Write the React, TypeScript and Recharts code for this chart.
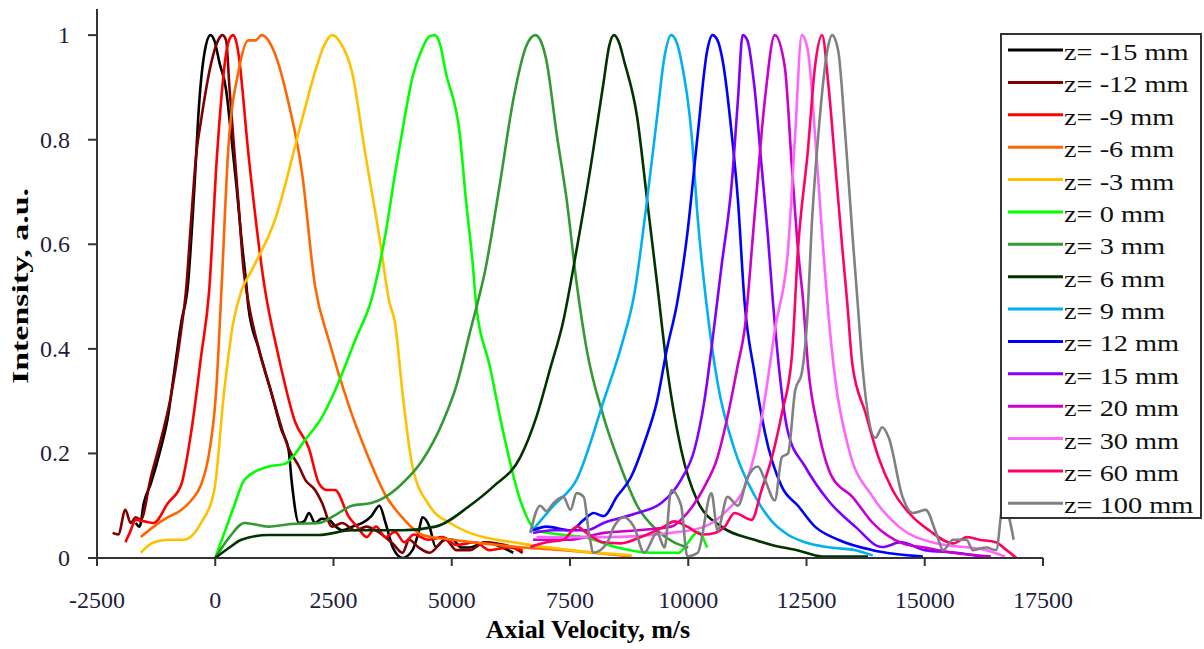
import { LineChart, Line, XAxis, YAxis, Label } from 'recharts';

// velocity (m/s), intensity (a.u.) pairs
const zM15: [number, number][] = [
  [-1680, 0.067], [-1600, 0.06], [-1510, 0.105], [-1360, 0.143], [-1150, 0.21], [-1000, 0.27], [-870, 0.354],
  [-720, 0.45], [-580, 0.52], [-440, 0.71], [-340, 0.87], [-230, 0.965], [-100, 1.0], [-20, 0.99], [90, 0.947],
  [230, 0.895], [340, 0.805], [450, 0.71], [550, 0.614], [660, 0.52], [700, 0.48], [920, 0.4], [1190, 0.315],
  [1400, 0.245], [1550, 0.207], [1620, 0.143], [1770, 0.067], [1880, 0.07], [1980, 0.086], [2110, 0.067],
  [2250, 0.075], [2400, 0.073], [2550, 0.06], [2680, 0.053], [2900, 0.06], [3110, 0.067], [3300, 0.08],
  [3470, 0.1], [3600, 0.067], [3750, 0.021], [3960, 0.0], [4170, 0.015], [4300, 0.05], [4380, 0.078],
  [4530, 0.06], [4660, 0.021], [4850, 0.035], [5020, 0.035], [5200, 0.02], [5380, 0.02], [5700, 0.03],
  [5940, 0.025], [6300, 0.01],
];
const zM12: [number, number][] = [
  [-2170, 0.048], [-2050, 0.045], [-1900, 0.092], [-1790, 0.067], [-1680, 0.078], [-1575, 0.073], [-1360, 0.155],
  [-1150, 0.226], [-940, 0.308], [-720, 0.436], [-620, 0.51], [-510, 0.646], [-400, 0.774], [-300, 0.837],
  [-85, 0.947], [60, 0.99], [150, 1.0], [230, 0.99], [300, 0.9], [380, 0.805], [490, 0.68], [600, 0.55], [700, 0.49],
  [920, 0.4], [1190, 0.315], [1400, 0.25], [1550, 0.21], [1770, 0.175], [1900, 0.15], [2110, 0.13],
  [2260, 0.105], [2470, 0.06], [2680, 0.067], [2960, 0.053], [3200, 0.06], [3390, 0.053], [3750, 0.028],
  [3960, 0.01], [4100, 0.035], [4300, 0.02], [4530, 0.01], [4870, 0.035], [5100, 0.015], [5380, 0.015],
  [5700, 0.03], [5940, 0.028], [6300, 0.02], [6500, 0.01],
];
const zM9: [number, number][] = [
  [-1900, 0.03], [-1800, 0.05], [-1680, 0.073], [-1500, 0.07], [-1300, 0.067], [-1000, 0.105], [-720, 0.14],
  [-510, 0.24], [-300, 0.385], [-130, 0.51], [40, 0.774], [230, 0.965], [300, 0.992], [380, 1.0], [450, 0.985],
  [490, 0.965], [700, 0.774],
  [1040, 0.52], [1340, 0.385], [1690, 0.26], [1980, 0.21], [2190, 0.143], [2350, 0.13], [2530, 0.13],
  [2830, 0.078], [3000, 0.06], [3200, 0.04], [3400, 0.06], [3600, 0.04], [3800, 0.05], [4000, 0.03],
  [4200, 0.045], [4500, 0.035], [4800, 0.04], [5100, 0.025], [5500, 0.03], [5800, 0.015], [6200, 0.02],
  [6500, 0.015],
];
const zM6: [number, number][] = [
  [-1575, 0.04], [-1300, 0.06], [-1000, 0.078], [-750, 0.09], [-510, 0.11], [-300, 0.14], [-150, 0.19],
  [20, 0.32], [130, 0.51], [270, 0.774], [490, 0.93], [700, 0.99], [850, 0.99], [980, 1.0], [1260, 0.965],
  [1550, 0.87], [1830, 0.74], [2110, 0.52], [2400, 0.417], [2830, 0.29], [3250, 0.19], [3600, 0.12],
  [3950, 0.078], [4380, 0.044], [5000, 0.035], [5660, 0.028], [6500, 0.02], [7360, 0.015], [8000, 0.01],
  [8800, 0.003],
];
const zM3: [number, number][] = [
  [-1575, 0.01], [-1300, 0.03], [-1000, 0.035], [-660, 0.035], [-300, 0.067], [-20, 0.13], [190, 0.32],
  [380, 0.45], [550, 0.51], [770, 0.55], [1260, 0.646], [1830, 0.837], [2110, 0.93], [2300, 0.98], [2470, 1.0],
  [2650, 0.985], [2890, 0.93],
  [3170, 0.774], [3470, 0.614], [3680, 0.49], [3800, 0.45], [3960, 0.315], [4170, 0.175], [4530, 0.1],
  [5000, 0.065], [5380, 0.048], [6450, 0.028], [7500, 0.015], [8800, 0.005],
];
const z0: [number, number][] = [
  [0, 0], [200, 0.05], [400, 0.1], [620, 0.15], [1130, 0.175], [1470, 0.18], [1900, 0.226], [2260, 0.27],
  [2530, 0.32], [2960, 0.417], [3320, 0.5], [3600, 0.62], [3810, 0.74], [4000, 0.84], [4170, 0.92],
  [4380, 0.975], [4520, 0.997], [4640, 1.0], [4760, 0.98], [4870, 0.93], [5170, 0.81], [5300, 0.685],
  [5450, 0.556], [5510, 0.49],
  [5810, 0.365], [6090, 0.24], [6450, 0.11], [6790, 0.053], [7300, 0.045], [7790, 0.04], [8500, 0.02],
  [9210, 0.01], [9800, 0.01], [10000, 0.03], [10200, 0.05], [10400, 0.02],
];
const z3: [number, number][] = [
  [0, 0], [300, 0.04], [620, 0.067], [1130, 0.06], [1600, 0.065], [2190, 0.067], [2500, 0.08], [2890, 0.1],
  [3300, 0.105], [3600, 0.117], [3960, 0.143], [4380, 0.187], [4810, 0.26], [5100, 0.33], [5380, 0.43],
  [5720, 0.556], [6020, 0.717], [6300, 0.876], [6580, 0.98], [6770, 1.0], [6900, 0.985], [7000, 0.952],
  [7220, 0.81],
  [7430, 0.685], [7640, 0.526], [7850, 0.4], [8210, 0.27], [8570, 0.175], [8920, 0.1], [9340, 0.053],
  [9700, 0.03], [10000, 0.02],
];
const z6: [number, number][] = [
  [0, 0], [300, 0.02], [550, 0.035], [1130, 0.044], [2190, 0.044], [2890, 0.053], [3960, 0.053], [4660, 0.06],
  [5380, 0.1], [5870, 0.136], [6450, 0.193], [6790, 0.27], [7090, 0.365], [7350, 0.45], [7640, 0.59],
  [7940, 0.75], [8210, 0.91], [8330, 0.98], [8430, 1.0], [8540, 0.985], [8640, 0.952], [8920, 0.843],
  [9130, 0.685], [9340, 0.526],
  [9550, 0.365], [9850, 0.207], [10190, 0.11], [10700, 0.06], [11400, 0.035], [11770, 0.025], [12300, 0.015],
  [12830, 0.003], [13800, 0.003],
];
const z9: [number, number][] = [
  [6660, 0.048], [7150, 0.1], [7640, 0.15], [8210, 0.3], [8600, 0.41], [8850, 0.5], [9130, 0.685],
  [9340, 0.843], [9500, 0.96], [9640, 1.0], [9760, 0.985], [9850, 0.952], [10070, 0.81], [10200, 0.65],
  [10380, 0.49], [10620, 0.335],
  [10980, 0.207], [11400, 0.12], [11770, 0.07], [12100, 0.045], [12470, 0.03], [13000, 0.02], [13530, 0.015],
  [13900, 0.005],
];
const z12: [number, number][] = [
  [6720, 0.053], [7000, 0.06], [7510, 0.053], [7790, 0.073], [8000, 0.086], [8210, 0.08], [8490, 0.117],
  [8790, 0.155], [9070, 0.22], [9340, 0.3], [9550, 0.4], [9770, 0.49], [9980, 0.62], [10200, 0.81],
  [10400, 0.97], [10510, 1.0], [10620, 0.99], [10730, 0.95], [10920, 0.81], [11050, 0.685], [11190, 0.49],
  [11400, 0.354],
  [11620, 0.24], [11980, 0.136], [12320, 0.1], [12680, 0.06], [13170, 0.035], [13900, 0.015], [14960, 0.003],
];
const z15: [number, number][] = [
  [6720, 0.048], [7150, 0.053], [7850, 0.053], [8210, 0.067], [8920, 0.086], [9430, 0.105], [9850, 0.15],
  [10130, 0.207], [10340, 0.3], [10490, 0.4], [10700, 0.556], [10920, 0.717], [11050, 0.876], [11150, 1.0],
  [11250, 0.99], [11400, 0.9], [11550, 0.75], [11680, 0.62], [11790, 0.49], [12110, 0.24], [12470, 0.175],
  [12960, 0.11], [13530, 0.06], [14100, 0.021], [14500, 0.03], [15000, 0.015], [15660, 0.01], [16200, 0.003],
];
const z20: [number, number][] = [
  [6720, 0.035], [7510, 0.035], [8210, 0.048], [8920, 0.053], [9640, 0.06], [9920, 0.08], [10340, 0.136],
  [10620, 0.193], [10830, 0.27], [11050, 0.37], [11190, 0.436], [11400, 0.652], [11620, 0.876], [11830, 1.0],
  [12040, 0.94], [12190, 0.75], [12320, 0.59], [12430, 0.49], [12530, 0.37], [12750, 0.245], [13040, 0.155],
  [13470, 0.117], [13900, 0.067], [14530, 0.028], [15000, 0.02], [15600, 0.01], [16400, 0.003],
];
const z30: [number, number][] = [
  [6790, 0.04], [8210, 0.04], [9640, 0.048], [10340, 0.06], [10830, 0.092], [11190, 0.136], [11470, 0.226],
  [11680, 0.34], [11830, 0.436], [12110, 0.59], [12260, 0.81], [12400, 1.0], [12530, 0.97], [12680, 0.81],
  [12830, 0.62], [12940, 0.49], [13110, 0.34], [13390, 0.21], [13900, 0.117], [14450, 0.06], [15240, 0.028],
  [16300, 0.015], [16700, 0.003],
];
const z60: [number, number][] = [
  [6660, 0.021], [7000, 0.03], [7360, 0.035], [7650, 0.06], [7850, 0.048], [8200, 0.03], [8570, 0.028],
  [9000, 0.04], [9490, 0.06], [9700, 0.07], [9980, 0.06], [10300, 0.045], [10560, 0.048], [10770, 0.06],
  [10980, 0.086], [11340, 0.073], [11550, 0.13], [11770, 0.193], [11980, 0.277], [12190, 0.385], [12320, 0.59],
  [12530, 0.78], [12680, 0.94], [12830, 1.0], [12960, 0.908], [13110, 0.75], [13260, 0.59], [13360, 0.49],
  [13470, 0.37], [13750, 0.277], [14020, 0.193], [14320, 0.13], [14750, 0.078], [15090, 0.053], [15600, 0.028],
  [15900, 0.04], [16150, 0.035], [16500, 0.03], [16730, 0.015], [16940, 0],
];
const z100: [number, number][] = [
  [6660, 0.048], [6870, 0.1], [7000, 0.09], [7150, 0.105], [7360, 0.117], [7510, 0.092], [7640, 0.124],
  [7790, 0.117], [7900, 0.048], [8000, 0.01], [8280, 0.028], [8430, 0.06], [8640, 0.078], [8850, 0.06],
  [9070, 0.01], [9340, 0.048], [9500, 0.02], [9640, 0.13], [9850, 0.1], [9980, 0.003], [10200, 0.01],
  [10490, 0.124], [10620, 0.053], [10830, 0.117], [11050, 0.1], [11260, 0.155], [11470, 0.175], [11620, 0.15],
  [11830, 0.11], [11980, 0.193], [12110, 0.2], [12260, 0.32], [12400, 0.354], [12510, 0.45], [12620, 0.65],
  [12750, 0.81], [12940, 0.97], [13040, 1.0], [13170, 0.97], [13320, 0.81], [13470, 0.62], [13580, 0.49],
  [13680, 0.37], [13960, 0.23], [14100, 0.25], [14240, 0.23], [14530, 0.117], [14750, 0.086], [15020, 0.092],
  [15240, 0.048], [15390, 0.015], [15600, 0.035], [15880, 0.035], [16020, 0.015], [16300, 0.02], [16510, 0.015],
  [16660, 0.105], [16880, 0.035],
];

const seriesNames = [
  'z= -15 mm', 'z= -12 mm', 'z= -9 mm', 'z= -6 mm', 'z= -3 mm', 'z= 0 mm', 'z= 3 mm', 'z= 6 mm',
  'z= 9 mm', 'z= 12 mm', 'z= 15 mm', 'z= 20 mm', 'z= 30 mm', 'z= 60 mm', 'z= 100 mm',
];
const seriesColors = [
  '#000000', '#800000', '#ff0000', '#ff6600', '#ffc000', '#00ff00', '#339933', '#003300',
  '#00b0f0', '#0000ff', '#7f00ff', '#cc00cc', '#ff66ff', '#ff0066', '#808080',
];
const seriesData = [zM15, zM12, zM9, zM6, zM3, z0, z3, z6, z9, z12, z15, z20, z30, z60, z100];

const xTicks = [-2500, 0, 2500, 5000, 7500, 10000, 12500, 15000, 17500];
const yTicks = [0, 0.2, 0.4, 0.6, 0.8, 1];

const FONT = '"Liberation Serif", "Times New Roman", serif';
const TICK_COLOR = '#1e1e3c';
const AXIS_COLOR = '#333333';

const toPts = (a: [number, number][]) => a.map(([x, y]) => ({ x, y }));

function XTick(props: any) {
  const { x, payload } = props;
  return (
    <text x={x} y={608} textAnchor="middle" fontSize={24} fontFamily={FONT} fill={TICK_COLOR}>
      {payload.value}
    </text>
  );
}

function YTick(props: any) {
  const { y, payload } = props;
  return (
    <text x={70} y={y + 8} textAnchor="end" fontSize={24} fontFamily={FONT} fill={TICK_COLOR}>
      {payload.value}
    </text>
  );
}

function LegendBox() {
  const rowY = (i: number) => 50 + i * 32.38;
  return (
    <svg
      width={1204}
      height={649}
      style={{ position: 'absolute', left: 0, top: 0, pointerEvents: 'none' }}
    >
      <rect x={1001} y={34} width={200} height={484} fill="#fff" stroke={AXIS_COLOR} strokeWidth={2} />
      {seriesNames.map((name, i) => (
        <g key={name}>
          <line x1={1008} x2={1063} y1={rowY(i)} y2={rowY(i)} stroke={seriesColors[i]} strokeWidth={3} />
          <text
            transform={`translate(1064, ${rowY(i) + 10}) scale(1.26, 1)`}
            fontSize={22.5}
            fontFamily={FONT}
            fill="#111"
          >
            {name}
          </text>
        </g>
      ))}
    </svg>
  );
}

export default function App() {
  return (
    <div style={{ position: 'absolute', left: 0, top: 0, width: 1204, height: 649, background: '#fff' }}>
      <LineChart width={1204} height={649} margin={{ top: 9, right: 161, bottom: 0, left: 0 }}>
        <XAxis
          type="number"
          dataKey="x"
          domain={[-2500, 17500]}
          ticks={xTicks}
          interval={0}
          height={91}
          tickSize={8}
          tick={<XTick />}
          axisLine={{ stroke: AXIS_COLOR, strokeWidth: 2 }}
          tickLine={{ stroke: AXIS_COLOR, strokeWidth: 2 }}
          allowDataOverflow
        >
          <Label
            content={() => (
              <text x={588} y={638} textAnchor="middle" fontSize={26} fontWeight="bold" fontFamily={FONT} fill="#000">
                Axial Velocity, m/s
              </text>
            )}
          />
        </XAxis>
        <YAxis
          type="number"
          domain={[0, 1.05]}
          ticks={yTicks}
          interval={0}
          width={97}
          tickSize={9}
          tick={<YTick />}
          axisLine={{ stroke: AXIS_COLOR, strokeWidth: 2 }}
          tickLine={{ stroke: AXIS_COLOR, strokeWidth: 2 }}
          allowDataOverflow
        >
          <Label
            content={() => (
              <text
                transform="translate(28, 286) rotate(-90)"
                textAnchor="middle"
                fontSize={24}
                fontWeight="bold"
                fontFamily={FONT}
                fill="#000"
                textLength={196}
                lengthAdjust="spacingAndGlyphs"
              >
                Intensity, a.u.
              </text>
            )}
          />
        </YAxis>
        {seriesData.map((d, i) => (
          <Line
            key={seriesNames[i]}
            data={toPts(d)}
            dataKey="y"
            type="monotone"
            stroke={seriesColors[i]}
            strokeWidth={2.6}
            dot={false}
            activeDot={false}
            isAnimationActive={false}
            name={seriesNames[i]}
          />
        ))}
      </LineChart>
      <LegendBox />
    </div>
  );
}
